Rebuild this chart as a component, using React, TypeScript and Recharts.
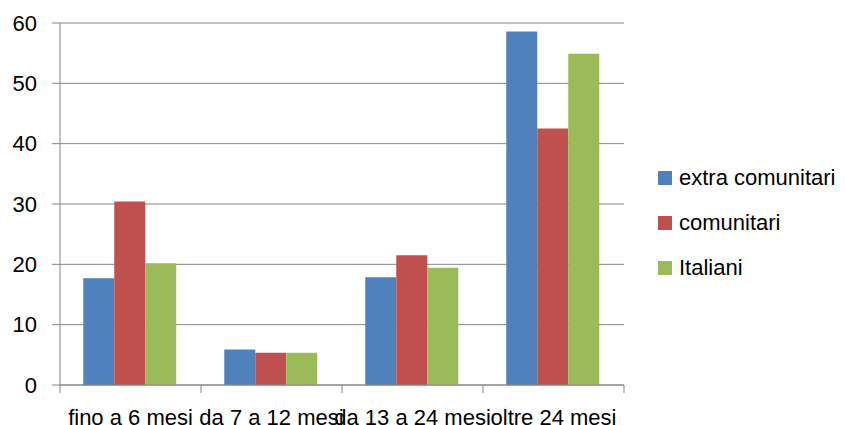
import { BarChart, Bar, XAxis, YAxis, CartesianGrid } from 'recharts';

const categories = ['fino a 6 mesi', 'da 7 a 12 mesi', 'da 13 a 24 mesi', 'oltre 24 mesi'];
const extraComunitari = [17.7, 5.9, 17.85, 58.6];
const comunitari = [30.4, 5.35, 21.5, 42.5];
const italiani = [20.2, 5.35, 19.45, 54.9];
const yTicks = [0, 10, 20, 30, 40, 50, 60];

const SERIES = [
  { key: 'extra', name: 'extra comunitari', color: '#4F81BD' },
  { key: 'comu', name: 'comunitari', color: '#C0504D' },
  { key: 'ita', name: 'Italiani', color: '#9BBB59' },
];

const data = categories.map((name, i) => ({
  name,
  extra: extraComunitari[i],
  comu: comunitari[i],
  ita: italiani[i],
}));

const FONT = "'Liberation Sans', Arial, sans-serif";
const GRID = '#868686';
const TICK = 8;
const MARGIN = 16;

// category label plus Excel-style tick marks on the band edges
const CatTick = (props: any) => {
  const { x, y, payload, width, index, visibleTicksCount } = props;
  const band = width && visibleTicksCount ? width / visibleTicksCount : 141;
  const top = y - TICK - MARGIN;
  const last = index === visibleTicksCount - 1;
  return (
    <g>
      <line x1={x - band / 2} x2={x - band / 2} y1={top} y2={top + TICK} stroke={GRID} />
      {last && <line x1={x + band / 2} x2={x + band / 2} y1={top} y2={top + TICK} stroke={GRID} />}
      <text x={x} y={y} dy="0.71em" textAnchor="middle" fill="#000" fontSize={22} fontFamily={FONT}>
        {payload.value}
      </text>
    </g>
  );
};

const LegendBox = () => (
  <div
    style={{
      position: 'absolute',
      left: 658,
      top: 155,
      width: 187,
      fontFamily: FONT,
      fontSize: 22,
      color: '#000',
    }}
  >
    {SERIES.map((s) => (
      <div key={s.key} style={{ display: 'flex', alignItems: 'center', height: 45 }}>
        <span style={{ width: 14, height: 14, background: s.color, marginRight: 7, display: 'inline-block' }} />
        <span>{s.name}</span>
      </div>
    ))}
  </div>
);

export default function App() {
  return (
    <div style={{ position: 'absolute', left: 0, top: 0, width: 845, height: 425, background: '#fff' }}>
      <BarChart
        width={845}
        height={425}
        data={data}
        margin={{ top: 23, right: 221, bottom: 0, left: 0 }}
        barCategoryGap="16.5%"
        barGap={0}
      >
        <CartesianGrid vertical={false} stroke={GRID} strokeWidth={1} />
        <XAxis
          dataKey="name"
          interval={0}
          tickLine={false}
          stroke={GRID}
          tickSize={TICK}
          tickMargin={MARGIN}
          height={40}
          tick={<CatTick />}
        />
        <YAxis
          domain={[0, 60]}
          ticks={yTicks}
          width={60}
          tickSize={TICK}
          tickMargin={15}
          stroke={GRID}
          tick={{ fill: '#000', fontSize: 22, fontFamily: FONT }}
        />
        {SERIES.map((s) => (
          <Bar key={s.key} dataKey={s.key} name={s.name} fill={s.color} isAnimationActive={false} />
        ))}
      </BarChart>
      <LegendBox />
    </div>
  );
}
